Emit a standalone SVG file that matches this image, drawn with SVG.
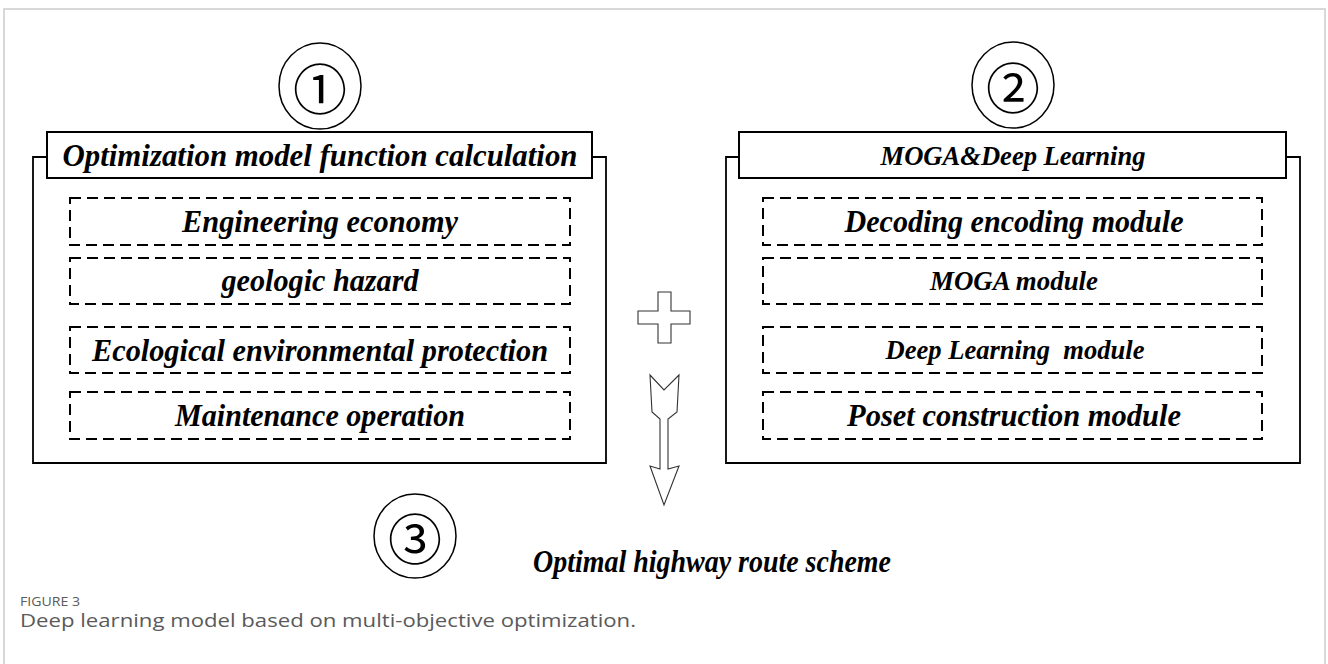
<svg xmlns="http://www.w3.org/2000/svg" width="1328" height="664" viewBox="0 0 1328 664">
<style>
.frame{fill:none;stroke:#cccccc;stroke-width:1.5}
.outer{fill:none;stroke:#000;stroke-width:1.8}
.title{fill:#fff;stroke:#000;stroke-width:2}
.dash{fill:none;stroke:#000;stroke-width:2;stroke-dasharray:11 6}
.t{font-family:"Liberation Serif","Times New Roman",serif;font-weight:bold;font-style:italic;text-anchor:middle;fill:#000;white-space:pre}
.big{font-size:32px}
.small{font-size:27px}
.circ{fill:#fff;stroke:#000;stroke-width:1.5}
.num{font-family:"Noto Sans CJK SC","DejaVu Sans",sans-serif;font-size:54px;text-anchor:middle;dominant-baseline:central;fill:#000}
.sym{fill:#fff;stroke:#333;stroke-width:1.1;stroke-linejoin:miter}
.cap{font-family:"Open Sans","Noto Sans",sans-serif;fill:#5a5a5a}
</style>
<rect x="0" y="0" width="1328" height="664" fill="#fff"/>
<rect class="frame" x="4" y="9" width="1321" height="700"/>

<g id="panel1">
  <path class="outer" d="M47 157 H33 V463 H606 V157 H592"/>
  <rect class="title" x="47" y="132" width="545" height="46"/>
  <text class="t big" x="320" y="166" textLength="515" lengthAdjust="spacingAndGlyphs">Optimization model function calculation</text>
  <g id="p1-engineering">
    <rect class="dash" x="70" y="198" width="500" height="47"/>
    <text class="t big" x="320" y="232" textLength="276" lengthAdjust="spacingAndGlyphs">Engineering economy</text>
  </g>
  <g id="p1-geologic">
    <rect class="dash" x="70" y="258" width="500" height="46"/>
    <text class="t big" x="320" y="291" textLength="197" lengthAdjust="spacingAndGlyphs">geologic hazard</text>
  </g>
  <g id="p1-ecological">
    <rect class="dash" x="70" y="327" width="500" height="46"/>
    <text class="t big" x="320" y="361" textLength="456" lengthAdjust="spacingAndGlyphs">Ecological environmental protection</text>
  </g>
  <g id="p1-maintenance">
    <rect class="dash" x="70" y="392" width="500" height="47"/>
    <text class="t big" x="320" y="426" textLength="290" lengthAdjust="spacingAndGlyphs">Maintenance operation</text>
  </g>
</g>

<g id="panel2">
  <path class="outer" d="M739 157 H726 V463 H1300 V157 H1286"/>
  <rect class="title" x="739" y="132" width="547" height="46"/>
  <text class="t small" x="1013" y="165" textLength="265" lengthAdjust="spacingAndGlyphs">MOGA&amp;Deep Learning</text>
  <g id="p2-decoding">
    <rect class="dash" x="763" y="198" width="499" height="47"/>
    <text class="t big" x="1014" y="232" textLength="339" lengthAdjust="spacingAndGlyphs">Decoding encoding module</text>
  </g>
  <g id="p2-moga">
    <rect class="dash" x="763" y="258" width="499" height="46"/>
    <text class="t small" x="1014" y="290" textLength="168" lengthAdjust="spacingAndGlyphs">MOGA module</text>
  </g>
  <g id="p2-deep">
    <rect class="dash" x="763" y="327" width="499" height="46"/>
    <text class="t small" x="1015" y="359" textLength="259" lengthAdjust="spacingAndGlyphs">Deep Learning  module</text>
  </g>
  <g id="p2-poset">
    <rect class="dash" x="763" y="392" width="499" height="47"/>
    <text class="t big" x="1014" y="426" textLength="334" lengthAdjust="spacingAndGlyphs">Poset construction module</text>
  </g>
</g>

<g id="marker1">
  <ellipse class="circ" cx="320" cy="86" rx="41" ry="43"/>
  <text class="num" x="320" y="86">①</text>
</g>
<g id="marker2">
  <ellipse class="circ" cx="1013" cy="85" rx="41" ry="43"/>
  <text class="num" x="1013" y="85">②</text>
</g>

<g id="plus">
  <polygon class="sym" points="658,292 671,292 671,311 690,311 690,324 671,324 671,343 658,343 658,324 638,324 638,311 658,311"/>
</g>

<g id="connectors">
  <polygon class="sym" points="650,375 664,390 679,375 677,412 668,419 668,469 679,466 664,505 650,466 660,469 660,419 652,412"/>
</g>

<g id="result">
  <ellipse class="circ" cx="415" cy="536" rx="41" ry="42"/>
  <text class="num" x="415" y="536">③</text>
  <text class="t big" x="712" y="572" textLength="358" lengthAdjust="spacingAndGlyphs">Optimal highway route scheme</text>
</g>

<g id="caption">
  <text class="cap" x="20" y="606" font-size="13.5" textLength="60" lengthAdjust="spacingAndGlyphs">FIGURE 3</text>
  <text class="cap" x="20" y="627" font-size="18" textLength="616" lengthAdjust="spacingAndGlyphs">Deep learning model based on multi-objective optimization.</text>
</g>
</svg>
